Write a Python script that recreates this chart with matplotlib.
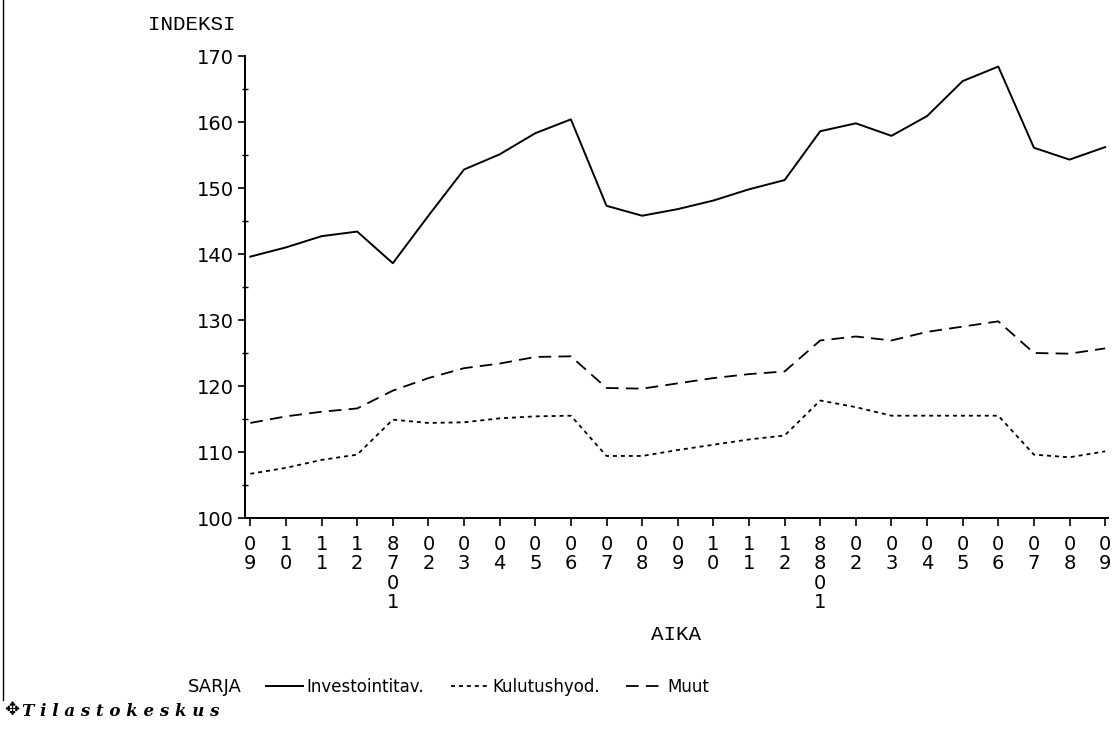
import matplotlib.pyplot as plt
from matplotlib.lines import Line2D
from matplotlib.ticker import MultipleLocator

# kuukaudet 1986/09 - 1988/09
periods = ['09', '10', '11', '12', '8701', '02', '03', '04', '05', '06', '07', '08',
           '09', '10', '11', '12', '8801', '02', '03', '04', '05', '06', '07', '08', '09']

investointitav = [139.6, 141.0, 142.7, 143.4, 138.6, 145.8, 152.8, 155.1, 158.3, 160.4,
                  147.3, 145.8, 146.8, 148.1, 149.8, 151.2, 158.6, 159.8, 157.9, 160.9,
                  166.2, 168.4, 156.1, 154.3, 156.2]
kulutushyod = [106.7, 107.6, 108.8, 109.6, 114.9, 114.4, 114.5, 115.1, 115.4, 115.5,
               109.4, 109.4, 110.3, 111.1, 111.9, 112.5, 117.8, 116.8, 115.5, 115.5,
               115.5, 115.5, 109.6, 109.2, 110.1]
muut = [114.4, 115.4, 116.1, 116.6, 119.3, 121.2, 122.7, 123.4, 124.4, 124.5,
        119.7, 119.6, 120.4, 121.2, 121.8, 122.2, 126.9, 127.5, 126.9, 128.2,
        129.0, 129.8, 125.0, 124.9, 125.7]

series_names = ['Investointitav.', 'Kulutushyod.', 'Muut']

mono = 'Liberation Mono'

fig = plt.figure(figsize=(11.15, 7.33), dpi=100)
ax = fig.add_axes([245 / 1115, 1 - 518 / 733, (1108 - 245) / 1115, (518 - 56) / 733])

x = list(range(len(periods)))
l1, = ax.plot(x, investointitav, color='black', lw=1.4, linestyle='-')
l2, = ax.plot(x, kulutushyod, color='black', lw=1.3, linestyle=(0, (2.2, 2.2)))
l3, = ax.plot(x, muut, color='black', lw=1.3, linestyle=(0, (7, 4)))

ax.set_xlim(-0.15, 24.08)
ax.set_ylim(100, 170)
ax.yaxis.set_major_locator(MultipleLocator(10))
ax.yaxis.set_minor_locator(MultipleLocator(5))
ax.set_xticks(x)
ax.set_xticklabels(['\n'.join(p) for p in periods], linespacing=1.04,
                   fontsize=14, family='DejaVu Sans')

for s in ['top', 'right']:
    ax.spines[s].set_visible(False)
for s in ['left', 'bottom']:
    ax.spines[s].set_linewidth(1.4)

ax.tick_params(axis='y', which='major', direction='out', length=5, width=1.2,
               labelsize=14, pad=3)
ax.tick_params(axis='y', which='minor', direction='inout', length=4, width=1.0)
ax.tick_params(axis='x', which='major', direction='out', length=6, width=1.2, pad=6)

fig.text(148 / 1115, 1 - 25 / 733, 'INDEKSI', family=mono, fontsize=15,
         ha='left', va='center')
fig.text(676 / 1115, 1 - 634 / 733, 'AIKA', family=mono, fontsize=15,
         ha='center', va='center')

fig.text(188 / 1115, 1 - 687 / 733, 'SARJA', fontsize=13, ha='left', va='center')
fig.legend([l1, l2, l3], series_names, loc='center left',
           bbox_to_anchor=(266 / 1115, 1 - 687 / 733), ncol=3, frameon=False,
           fontsize=12, handlelength=2.2, handletextpad=0.25, columnspacing=1.6,
           borderpad=0, borderaxespad=0)

# alatunniste
fig.text(4 / 1115, 1 - 710 / 733, '\u2725', fontsize=13, ha='left', va='center')
fig.text(22 / 1115, 1 - 711 / 733, 'T i l a s t o k e s k u s', family='DejaVu Serif',
         style='italic', weight='bold', fontsize=12, ha='left', va='center')

# sivun vasen reuna
fig.add_artist(Line2D([3 / 1115, 3 / 1115], [1 - 700 / 733, 1], color='black',
                      lw=1.0, transform=fig.transFigure))

fig.savefig('out.png', dpi=100)
